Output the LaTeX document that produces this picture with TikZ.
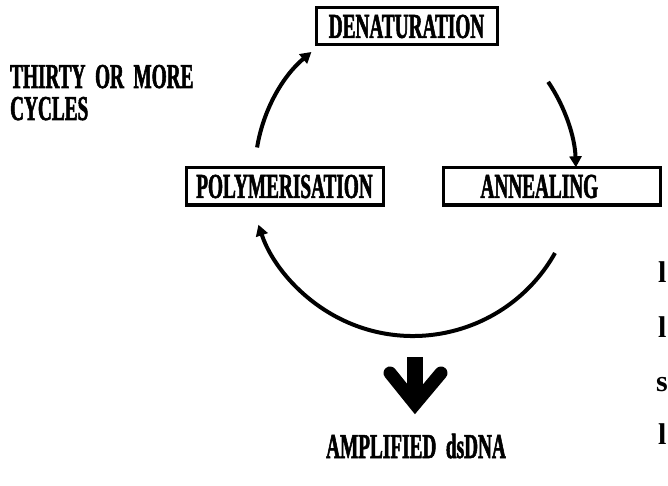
\documentclass[tikz,border=0pt]{standalone}
\usepackage{fontspec}
\usetikzlibrary{arrows.meta}
\newfontfamily\cond[FakeStretch=0.55,FakeBold=1.5]{Liberation Serif Bold}
\newfontfamily\plain{Liberation Serif Bold}
\begin{document}
\begin{tikzpicture}[x=1pt,y=-1pt,
  stage/.style={draw,line width=3pt,minimum height=37pt,inner sep=0pt,font=\cond\fontsize{35}{35}\selectfont},
  lbl/.style={font=\cond\fontsize{35}{35}\selectfont,inner sep=0pt},
  cyc/.style={line width=4pt,-{Triangle[length=11pt,width=12pt]}},
  edge/.style={font=\plain\fontsize{30}{30}\selectfont,inner sep=0pt,anchor=base west}]
\useasboundingbox (0,0) rectangle (668,486);
% boxes
\node[stage,minimum width=181pt] (den) at (406.5,26.5) {DENATURATION};
\node[stage,minimum width=197pt] (pol) at (284.5,186.5) {POLYMERISATION};
\node[stage,minimum width=217pt,text width=190pt,align=left] (ann) at (551.5,186.5) {\hspace*{24pt}ANNEALING};
% side text
\node[lbl,anchor=base west] (thirty) at (10,88) {THIRTY\ \ OR\ \ MORE};
\node[lbl,anchor=base west] (cycles) at (10,120) {CYCLES};
% cycle arcs
\coordinate (c) at (413,173);
\draw[cyc] (c) ++(189.3:158) arc[start angle=189.3,end angle=230,radius=158];
\draw[cyc] (c) ++(-34:163) arc[start angle=-34,end angle=-2,radius=163];
\draw[cyc] (c) ++(29.4:163) arc[start angle=29.4,end angle=161.5,radius=163];
% big arrow
\coordinate (s1) at (415,357);
\coordinate (s2) at (415,398);
\coordinate (w1) at (390,373);
\coordinate (tip) at (415,404);
\coordinate (w2) at (441,373);
\draw[line width=16pt] (s1) -- (s2);
\draw[line width=13pt,line cap=round,line join=miter] (w1) -- (tip) -- (w2);
\node[lbl,anchor=base] (amp) at (416,458) {AMPLIFIED\ \ dsDNA};
% cut-off text at right edge
\node[edge] (e1) at (658,282) {l};
\node[edge] (e2) at (658,337) {l};
\node[edge] (e3) at (656,391) {s};
\node[edge] (e4) at (658,444) {l};
\end{tikzpicture}
\end{document}
